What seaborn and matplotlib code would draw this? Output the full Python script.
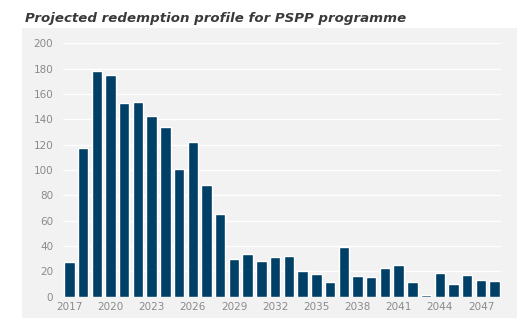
import matplotlib
matplotlib.use("Agg")
import matplotlib.pyplot as plt
import seaborn as sns
import pandas as pd
from matplotlib.patches import Rectangle

years = list(range(2017, 2049))
values = [27.5, 117, 178, 175, 153, 154, 142.5, 134, 101, 122, 88, 65,
          29.5, 33.5, 28, 31.5, 32, 20, 18, 11.5, 39, 16.5, 15.8, 23, 25,
          11.5, 1.0, 19, 10.3, 17, 13.5, 12.5]
tick_years = [2017, 2020, 2023, 2026, 2029, 2032, 2035, 2038, 2041, 2044, 2047]
y_ticks = [0, 20, 40, 60, 80, 100, 120, 140, 160, 180, 200]
title = "Projected redemption profile for PSPP programme"

bar_color = "#003f66"
panel_color = "#f2f2f2"
text_color = "#8a8a8a"

sns.set_style("white")
plt.rcParams['font.family'] = ['DejaVu Sans']

df = pd.DataFrame({"year": [str(y) for y in years], "value": values})

fig = plt.figure(figsize=(5.28, 3.34), dpi=100)
bg = Rectangle((22/528, 1-318/334), 495/528, 290/334,
               transform=fig.transFigure, facecolor=panel_color,
               edgecolor="none", zorder=-10)
fig.patches.append(bg)
ax = fig.add_axes([63/528, 1-296.7/334, 438/528, (296.7-43.3)/334])
ax.set_zorder(5)
ax.patch.set_alpha(0)

sns.barplot(data=df, x="year", y="value", color=bar_color, width=0.76,
            saturation=1, ax=ax, zorder=3)

ax.set_xlim(-0.46, len(years) - 1 + 0.46)
ax.set_ylim(0, 200)
ax.set_yticks(y_ticks)
ax.set_yticklabels([str(v) for v in y_ticks])
pos = [years.index(y) for y in tick_years]
ax.set_xticks(pos)
ax.set_xticklabels([str(y) for y in tick_years])
ax.grid(axis="y", color="white", linewidth=1.0, zorder=1)
ax.set_axisbelow(True)
for s in ax.spines.values():
    s.set_visible(False)
ax.tick_params(axis="both", length=0, labelsize=7.5, colors=text_color)
ax.tick_params(axis="y", pad=7)
ax.tick_params(axis="x", pad=3.5)
ax.set_xlabel("")
ax.set_ylabel("")

fig.text(25/528, 1-22/334, title, fontsize=9.6, style="italic",
         fontweight="semibold", color="#3a3a3a", ha="left", va="baseline",
         family=["DejaVu Sans"])

fig.savefig("out.png", dpi=100, facecolor="white")
